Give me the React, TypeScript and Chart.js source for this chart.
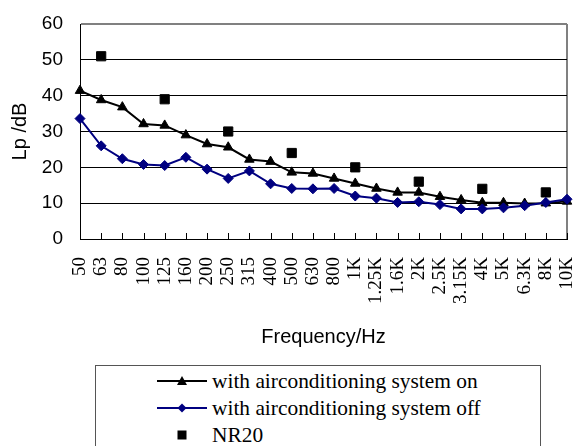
import React, { useEffect, useRef } from "react";
import { Chart, registerables } from "chart.js";

Chart.register(...registerables);

const frequencies = [
  "50", "63", "80", "100", "125", "160", "200", "250", "315", "400", "500", "630",
  "800", "1K", "1.25K", "1.6K", "2K", "2.5K", "3.15K", "4K", "5K", "6.3K", "8K", "10K",
];

const acOn = [
  41.4, 38.8, 36.8, 32.1, 31.7, 29.0, 26.5, 25.6, 22.2, 21.6, 18.6, 18.3,
  16.9, 15.5, 14.1, 13.0, 13.0, 11.8, 10.9, 10.1, 10.1, 9.9, 10.0, 10.5,
];

const acOff = [
  33.6, 26.0, 22.4, 20.8, 20.5, 22.8, 19.5, 16.9, 19.0, 15.4, 14.1, 14.0,
  14.1, 12.0, 11.4, 10.2, 10.4, 9.6, 8.4, 8.4, 8.7, 9.3, 10.2, 11.1,
];

const nr20 = [
  null, 51, null, null, 39, null, null, 30, null, null, 24, null,
  null, 20, null, null, 16, null, null, 14, null, null, 13, null,
];

const yTicks = [0, 10, 20, 30, 40, 50, 60];

const legendLabels = [
  "with airconditioning system on",
  "with airconditioning system off",
  "NR20",
];

const NAVY = "#000080";

const innerTicks = {
  id: "innerTicks",
  afterDraw(chart: any) {
    const xs = chart.scales.x;
    const ctx = chart.ctx;
    const bottom = chart.chartArea.bottom;
    ctx.save();
    ctx.strokeStyle = "#000";
    ctx.lineWidth = 1;
    xs.ticks.forEach((_t: any, i: number) => {
      const px = Math.round(xs.getPixelForTick(i)) + 0.5;
      ctx.beginPath();
      ctx.moveTo(px, bottom);
      ctx.lineTo(px, bottom - 6);
      ctx.stroke();
    });
    ctx.restore();
  },
};

export default function App() {
  const ref = useRef<HTMLCanvasElement | null>(null);

  useEffect(() => {
    if (!ref.current) return;
    const last = frequencies.length - 1;
    const chart = new Chart(ref.current, {
      type: "line",
      data: {
        labels: frequencies,
        datasets: [
          {
            label: legendLabels[0],
            data: acOn,
            borderColor: "#000",
            backgroundColor: "#000",
            borderWidth: 2,
            pointStyle: "triangle",
            pointRadius: 5.5,
            pointBorderWidth: 1,
            tension: 0,
            order: 2,
          },
          {
            label: legendLabels[1],
            data: acOff,
            borderColor: NAVY,
            backgroundColor: NAVY,
            borderWidth: 2,
            pointStyle: "rectRot",
            pointRadius: 5,
            pointBorderWidth: 1,
            tension: 0,
            order: 1,
          },
          {
            label: legendLabels[2],
            data: nr20 as any,
            showLine: false,
            borderColor: "#000",
            backgroundColor: "#000",
            pointStyle: "rect",
            pointRadius: 6.5,
            pointBorderWidth: 1,
            order: 3,
          },
        ],
      },
      options: {
        responsive: false,
        animation: false,
        devicePixelRatio: 1,
        layout: { padding: { left: 0, right: 9, top: 24, bottom: 97 } },
        plugins: {
          legend: { display: false },
          tooltip: { enabled: false },
        },
        scales: {
          x: {
            type: "category",
            offset: false,
            grid: {
              drawTicks: false,
              color: (c: any) => (c.index === last ? "#808080" : "rgba(0,0,0,0)"),
              lineWidth: 2,
            },
            border: { display: true, color: "#000", width: 1 },
            ticks: {
              autoSkip: false,
              maxRotation: 90,
              minRotation: 90,
              padding: 18,
              color: "#000",
              font: { family: "Liberation Serif", size: 19 },
            },
            title: {
              display: true,
              text: "Frequency/Hz",
              color: "#000",
              font: { family: "Liberation Sans", size: 20 },
              padding: 0,
            },
            afterFit: (s: any) => {
              s.height = 110;
              s.paddingLeft = 0;
              s.paddingRight = 0;
            },
          },
          y: {
            min: 0,
            max: 60,
            afterBuildTicks: (s: any) => {
              s.ticks = yTicks.map((v) => ({ value: v }));
            },
            grid: {
              drawTicks: false,
              color: (c: any) => (c.tick && c.tick.value === 60 ? "#808080" : "#000"),
              lineWidth: (c: any) => (c.tick && c.tick.value === 60 ? 2 : 1),
            },
            border: { display: true, color: "#000", width: 1 },
            ticks: {
              padding: 17,
              color: "#000",
              font: { family: "Liberation Sans", size: 19 },
            },
            title: {
              display: true,
              text: "Lp /dB",
              color: "#000",
              font: { family: "Liberation Sans", size: 20 },
              padding: { top: 8, bottom: 0 },
            },
            afterFit: (s: any) => {
              s.width = 80;
              s.paddingTop = 0;
              s.paddingBottom = 0;
            },
          },
        },
      } as any,
      plugins: [innerTicks],
    });
    return () => chart.destroy();
  }, []);

  const textStyle: React.CSSProperties = {
    position: "absolute",
    left: 116,
    fontFamily: "'Liberation Serif', 'Times New Roman', serif",
    fontSize: 21.4,
    lineHeight: "26px",
    height: 26,
    whiteSpace: "nowrap",
    color: "#000",
  };
  const markerStyle: React.CSSProperties = {
    position: "absolute",
    left: 61,
    width: 50,
    height: 26,
  };
  const rows = [15, 42, 69];

  return (
    <div
      style={{
        position: "absolute",
        left: 0,
        top: 0,
        width: 576,
        height: 446,
        overflow: "hidden",
        background: "#fff",
      }}
    >
      <canvas ref={ref} width={576} height={446} style={{ display: "block" }} />
      <div
        style={{
          position: "absolute",
          left: 95,
          top: 365,
          width: 444,
          height: 140,
          border: "1px solid #555",
          background: "#fff",
        }}
      >
        <svg style={{ ...markerStyle, top: rows[0] - 13 }} viewBox="0 0 50 26">
          <line x1="0" y1="13" x2="50" y2="13" stroke="#000" strokeWidth="2" />
          <polygon points="25,8 30,17 20,17" fill="#000" />
        </svg>
        <div style={{ ...textStyle, top: rows[0] - 13 }}>{legendLabels[0]}</div>
        <svg style={{ ...markerStyle, top: rows[1] - 13 }} viewBox="0 0 50 26">
          <line x1="0" y1="13" x2="50" y2="13" stroke={NAVY} strokeWidth="2" />
          <polygon points="25,8.5 29.5,13 25,17.5 20.5,13" fill={NAVY} />
        </svg>
        <div style={{ ...textStyle, top: rows[1] - 13 }}>{legendLabels[1]}</div>
        <svg style={{ ...markerStyle, top: rows[2] - 13 }} viewBox="0 0 50 26">
          <rect x="20.5" y="8.5" width="9" height="9" fill="#000" />
        </svg>
        <div style={{ ...textStyle, top: rows[2] - 13 }}>{legendLabels[2]}</div>
      </div>
    </div>
  );
}
